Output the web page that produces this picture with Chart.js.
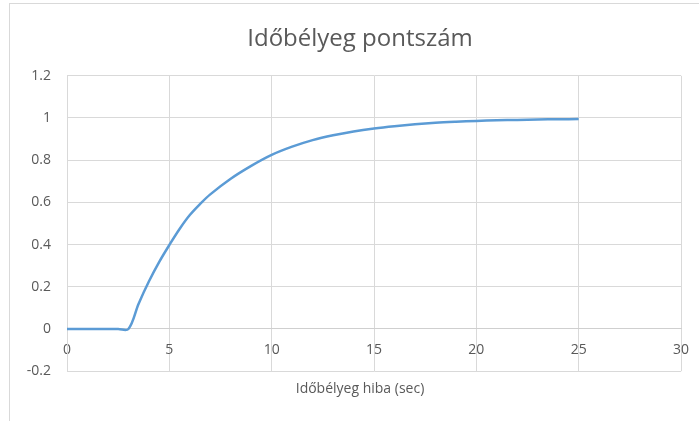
<!DOCTYPE html>
<html>
<head>
<meta charset="utf-8">
<script src="https://cdn.jsdelivr.net/npm/chart.js@4/dist/chart.umd.min.js"></script>
<style>
    body { margin: 0; background: #fff; }
    #wrap { position: relative; width: 699px; height: 421px; overflow: hidden; }
    #frame { position: absolute; left: 9px; top: 3px; width: 720px; height: 440px;
             border-top: 1px solid #d9d9d9; border-left: 1px solid #d9d9d9; }
    canvas { position: absolute; left: 0; top: 0; }
</style>
</head>
<body>
<div id="wrap">
    <div id="frame"></div>
    <!-- canvas is a bit wider than the window so the titles centre on the whole frame -->
    <canvas id="chart" width="740" height="421"></canvas>
</div>
<script>
// values
const errorSec = [0, 1, 2, 2.5, 3, 3.5, 4, 4.5, 5, 5.5, 6, 6.5, 7, 8, 9, 10, 11, 12, 13, 14, 15, 16, 17, 18, 19, 20, 21, 22, 23, 24, 25];
const score = [0, 0, 0, 0, 0, 0.12, 0.225, 0.317, 0.398, 0.474, 0.54, 0.592, 0.638, 0.712, 0.773, 0.825, 0.864, 0.895, 0.918, 0.936, 0.95, 0.961, 0.97, 0.977, 0.982, 0.986, 0.989, 0.991, 0.993, 0.994, 0.995];
const xTicks = [0, 5, 10, 15, 20, 25, 30];
const yTicks = [-0.2, 0, 0.2, 0.4, 0.6, 0.8, 1, 1.2];

const chartTitle = 'Időbélyeg pontszám';
const xTitle = 'Időbélyeg hiba (sec)';

const gridColor = '#d9d9d9';
const textColor = '#595959';
const fontFamily = "'Open Sans', 'Liberation Sans', sans-serif";

const points = errorSec.map((x, i) => ({ x: x, y: score[i] }));

new Chart(document.getElementById('chart').getContext('2d'), {
    type: 'line',
    data: {
        datasets: [{
            data: points,
            borderColor: '#5b9bd5',
            borderWidth: 2.5,
            pointRadius: 0,
            tension: 0.35,
            fill: false
        }]
    },
    options: {
        responsive: false,
        animation: false,
        locale: 'en-US',
        layout: { padding: { left: 10, right: 30, top: 0, bottom: 24 } },
        plugins: {
            legend: { display: false },
            tooltip: { enabled: false },
            title: {
                display: true,
                text: chartTitle,
                color: textColor,
                font: { family: fontFamily, size: 24, weight: 'normal' },
                padding: { top: 25, bottom: 22 }
            },
            subtitle: {
                display: true,
                position: 'bottom',
                text: xTitle,
                color: textColor,
                font: { family: fontFamily, size: 14, weight: 'normal' },
                padding: { top: 9, bottom: 0 }
            }
        },
        scales: {
            x: {
                type: 'linear',
                position: { y: 0 },
                min: 0,
                max: 30,
                afterBuildTicks: s => { s.ticks = xTicks.map(v => ({ value: v })); },
                afterFit: s => { s.height = 0; },
                grid: { color: gridColor, drawTicks: false },
                border: { color: '#cfcfcf' },
                ticks: {
                    color: textColor,
                    padding: 13,
                    maxRotation: 0,
                    font: { family: fontFamily, size: 14 }
                }
            },
            y: {
                min: -0.2,
                max: 1.2,
                afterBuildTicks: s => { s.ticks = yTicks.map(v => ({ value: v })); },
                afterFit: s => { s.width = 57; },
                grid: { color: gridColor, drawTicks: false },
                border: { color: gridColor },
                ticks: {
                    color: textColor,
                    padding: 16,
                    font: { family: fontFamily, size: 14 },
                    callback: v => String(Math.round(v * 10) / 10)
                }
            },
            // empty spacer on the right, balances the y labels
            spacer: {
                type: 'linear',
                position: 'right',
                min: 0,
                max: 1,
                afterFit: s => { s.width = 29; },
                grid: { display: false },
                border: { display: false },
                ticks: { display: false }
            }
        }
    }
});
</script>
</body>
</html>
